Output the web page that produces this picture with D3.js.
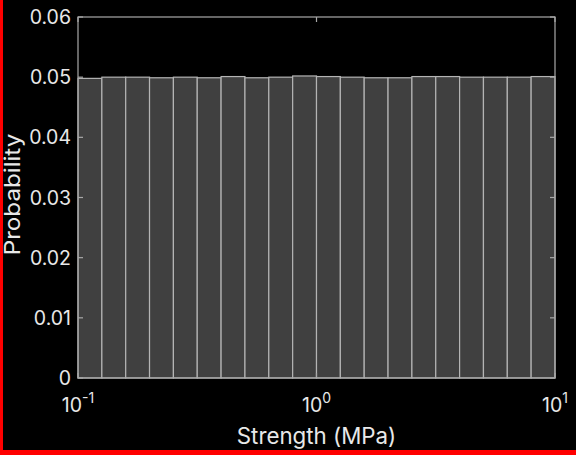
<!DOCTYPE html>
<html>
<head>
<meta charset="utf-8">
<script src="https://cdn.jsdelivr.net/npm/d3@7"></script>
<style>
  html, body { margin: 0; padding: 0; background: #000; }
  svg { display: block; }
  text { font-family: Inter, "Liberation Sans", Arial, sans-serif; fill: #e8e8e8; }
</style>
</head>
<body>
<svg id="chart" width="576" height="455"></svg>
<script>
// Histogram bin edges (MPa), logarithmically spaced
const binEdges = [0.1, 0.1259, 0.1585, 0.1995, 0.2512, 0.3162, 0.3981, 0.5012, 0.6310, 0.7943,
                  1.0, 1.2589, 1.5849, 1.9953, 2.5119, 3.1623, 3.9811, 5.0119, 6.3096, 7.9433, 10];
// Probability of each bin
const probabilities = [0.0498, 0.0500, 0.0500, 0.0499, 0.0500, 0.0499, 0.0501, 0.0499, 0.0500, 0.0502,
                       0.0501, 0.0500, 0.0499, 0.0499, 0.0501, 0.0501, 0.0500, 0.0500, 0.0500, 0.0501];
const yTicks = [0, 0.01, 0.02, 0.03, 0.04, 0.05, 0.06];
const yTickLabels = ["0", "0.01", "0.02", "0.03", "0.04", "0.05", "0.06"];
const xTicks = [0.1, 1, 10];
const xTickExponents = ["-1", "0", "1"];

const svg = d3.select("#chart");
const W = 576, H = 455;
const m = { left: 78, right: 21, top: 17, bottom: 78 };

const x = d3.scaleLog().domain([0.1, 10]).range([m.left, W - m.right]);
const y = d3.scaleLinear().domain([0, 0.06]).range([H - m.bottom + 1, m.top]);

const bins = probabilities.map((p, i) => ({ x0: binEdges[i], x1: binEdges[i + 1], p }));

// bars
svg.append("g").selectAll("rect").data(bins).join("rect")
  .attr("x", d => x(d.x0))
  .attr("y", d => y(d.p))
  .attr("width", d => x(d.x1) - x(d.x0))
  .attr("height", d => y(0) - y(d.p))
  .attr("fill", "#404040")
  .attr("stroke", "#b4b4b4")
  .attr("stroke-width", 1.2);

const axisColor = "#a8a8a8";
const x0 = x.range()[0], x1 = x.range()[1];
const yb = y(0), yt = y(0.06);
const tickLen = 5;

// box
svg.append("rect")
  .attr("x", x0).attr("y", yt)
  .attr("width", x1 - x0).attr("height", yb - yt)
  .attr("fill", "none").attr("stroke", axisColor).attr("stroke-width", 1.2);

// inward ticks on all four sides
const ticks = svg.append("g").attr("stroke", axisColor).attr("stroke-width", 1.2);
yTicks.forEach(v => {
  ticks.append("line").attr("x1", x0).attr("x2", x0 + tickLen).attr("y1", y(v)).attr("y2", y(v));
  ticks.append("line").attr("x1", x1).attr("x2", x1 - tickLen).attr("y1", y(v)).attr("y2", y(v));
});
xTicks.forEach(v => {
  ticks.append("line").attr("x1", x(v)).attr("x2", x(v)).attr("y1", yb).attr("y2", yb - tickLen);
  ticks.append("line").attr("x1", x(v)).attr("x2", x(v)).attr("y1", yt).attr("y2", yt + tickLen);
});

// y tick labels
svg.append("g").selectAll("text").data(yTicks).join("text")
  .attr("x", x0 - 7)
  .attr("y", d => y(d))
  .attr("dy", "0.36em")
  .attr("text-anchor", "end")
  .attr("font-size", 19.5)
  .text((d, i) => yTickLabels[i]);

// x tick labels: 10 with superscript exponent
const xl = svg.append("g").selectAll("text").data(xTicks).join("text")
  .attr("x", d => x(d))
  .attr("y", yb + 34)
  .attr("text-anchor", "middle")
  .attr("font-size", 19.5);
xl.append("tspan").text("10");
xl.append("tspan").attr("dy", -9).attr("font-size", 14).text((d, i) => xTickExponents[i]);

// axis titles
svg.append("text")
  .attr("x", (x0 + x1) / 2)
  .attr("y", 444)
  .attr("text-anchor", "middle")
  .attr("font-size", 22.3)
  .text("Strength (MPa)");

svg.append("text")
  .attr("transform", `translate(20,${(yb + yt) / 2 - 3}) rotate(-90) scale(1.1,1)`)
  .attr("text-anchor", "middle")
  .attr("font-size", 22)
  .text("Probability");

// red frame edges on left and bottom
svg.append("rect").attr("x", 0).attr("y", 0).attr("width", 3).attr("height", H).attr("fill", "#ff0000");
svg.append("rect").attr("x", 0).attr("y", H - 5).attr("width", W).attr("height", 5).attr("fill", "#ff0000");
</script>
</body>
</html>
